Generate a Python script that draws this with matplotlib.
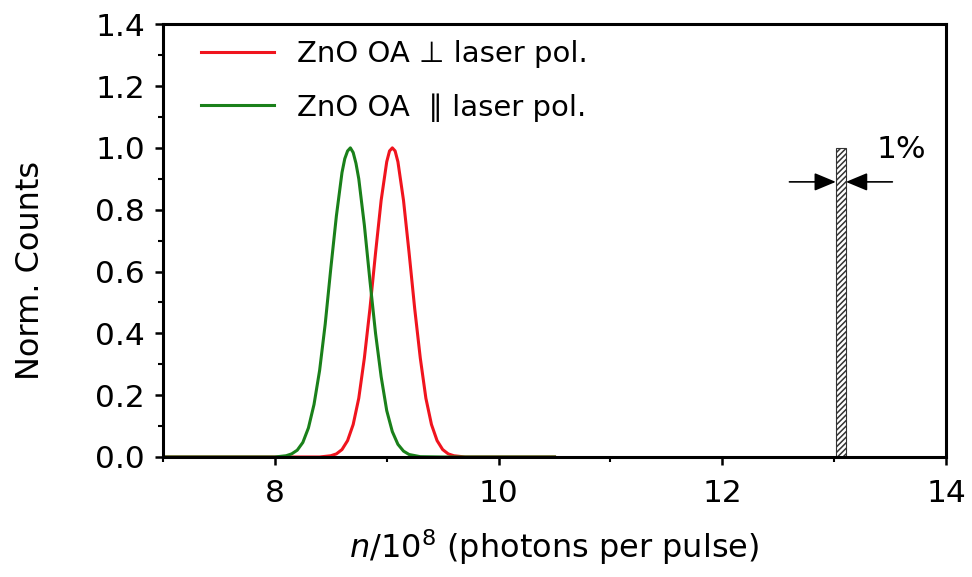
import matplotlib
matplotlib.use('Agg')
from matplotlib import pyplot as plt
from matplotlib.ticker import MultipleLocator, FormatStrFormatter

# values
green_x = [7.0, 8.0, 8.1, 8.15, 8.2, 8.25, 8.3, 8.35, 8.4, 8.45, 8.5, 8.55, 8.6, 8.625, 8.65, 8.675,
           8.7, 8.725, 8.75, 8.8, 8.85, 8.9, 8.95, 9.0, 9.05, 9.1, 9.15, 9.2, 9.3, 9.5, 10.5]
green_y = [0.0, 0.0, 0.004, 0.01, 0.022, 0.047, 0.094, 0.17, 0.28, 0.43, 0.61, 0.78, 0.92, 0.965, 0.99, 1.0,
           0.985, 0.95, 0.90, 0.75, 0.57, 0.40, 0.26, 0.15, 0.082, 0.041, 0.019, 0.008, 0.001, 0.0, 0.0]

red_x = [7.0, 8.4, 8.5, 8.55, 8.6, 8.65, 8.7, 8.75, 8.8, 8.85, 8.9, 8.95, 9.0, 9.025, 9.05, 9.075,
         9.1, 9.15, 9.2, 9.25, 9.3, 9.35, 9.4, 9.45, 9.5, 9.55, 9.6, 9.7, 10.5]
red_y = [0.0, 0.0, 0.004, 0.01, 0.024, 0.053, 0.105, 0.19, 0.32, 0.48, 0.66, 0.83, 0.955, 0.99, 1.0, 0.99,
         0.955, 0.83, 0.66, 0.48, 0.32, 0.19, 0.105, 0.053, 0.024, 0.01, 0.004, 0.0, 0.0]

bar_x = 13.06
bar_width = 0.09
bar_height = 1.0

labels = ['ZnO OA \u22a5 laser pol.', 'ZnO OA  \u2225 laser pol.']

plt.rcParams['font.family'] = ['DejaVu Sans']
plt.rcParams['mathtext.fontset'] = 'dejavusans'
plt.rcParams['hatch.linewidth'] = 1.1
plt.rcParams['hatch.color'] = '#222222'

fig = plt.figure(figsize=(9.72, 5.77), dpi=100)
ax = fig.add_axes([0.1677, 0.208, 0.9733 - 0.1677, 0.958 - 0.208])

ax.plot(red_x, red_y, color='#f0141e', lw=2.2, label=labels[0])
ax.plot(green_x, green_y, color='#1a801a', lw=2.2, label=labels[1])

ax.bar(bar_x, bar_height, width=bar_width, facecolor='white', edgecolor='#333333',
       hatch='//////', lw=0.8, zorder=3)

# 1% width arrows
ax.annotate('', xy=(bar_x - bar_width / 2, 0.89), xytext=(12.6, 0.89),
            arrowprops=dict(arrowstyle='-|>,head_length=0.6,head_width=0.25', color='black',
                            lw=1.2, mutation_scale=22, shrinkA=0, shrinkB=0))
ax.annotate('', xy=(bar_x + bar_width / 2, 0.89), xytext=(13.52, 0.89),
            arrowprops=dict(arrowstyle='-|>,head_length=0.6,head_width=0.25', color='black',
                            lw=1.2, mutation_scale=22, shrinkA=0, shrinkB=0))
ax.text(13.6, 0.995, '1%', fontsize=22.5, ha='center', va='center')

ax.set_xlim(7, 14)
ax.set_ylim(0, 1.4)
ax.xaxis.set_major_locator(MultipleLocator(2))
ax.xaxis.set_minor_locator(MultipleLocator(1))
ax.yaxis.set_major_locator(MultipleLocator(0.2))
ax.yaxis.set_minor_locator(MultipleLocator(0.1))
ax.yaxis.set_major_formatter(FormatStrFormatter('%.1f'))

for s in ax.spines.values():
    s.set_linewidth(2.2)
    s.set_zorder(5)
ax.tick_params(which='major', direction='out', length=6, width=1.8, labelsize=22.5, pad=7)
ax.tick_params(which='minor', direction='out', length=3.5, width=1.5)
ax.tick_params(axis='x', pad=10)

ax.set_xlabel(r'$n$/10$^{8}$ (photons per pulse)', fontsize=23, labelpad=14)
ax.set_ylabel('Norm. Counts', fontsize=23)
ax.yaxis.set_label_coords(-0.150, 0.432)

ax.legend(loc='upper left', bbox_to_anchor=(0.022, 1.01), frameon=False, fontsize=21,
          handlelength=2.5, handletextpad=0.8, labelspacing=0.85, borderaxespad=0.3)

fig.savefig('out.png', dpi=100)
